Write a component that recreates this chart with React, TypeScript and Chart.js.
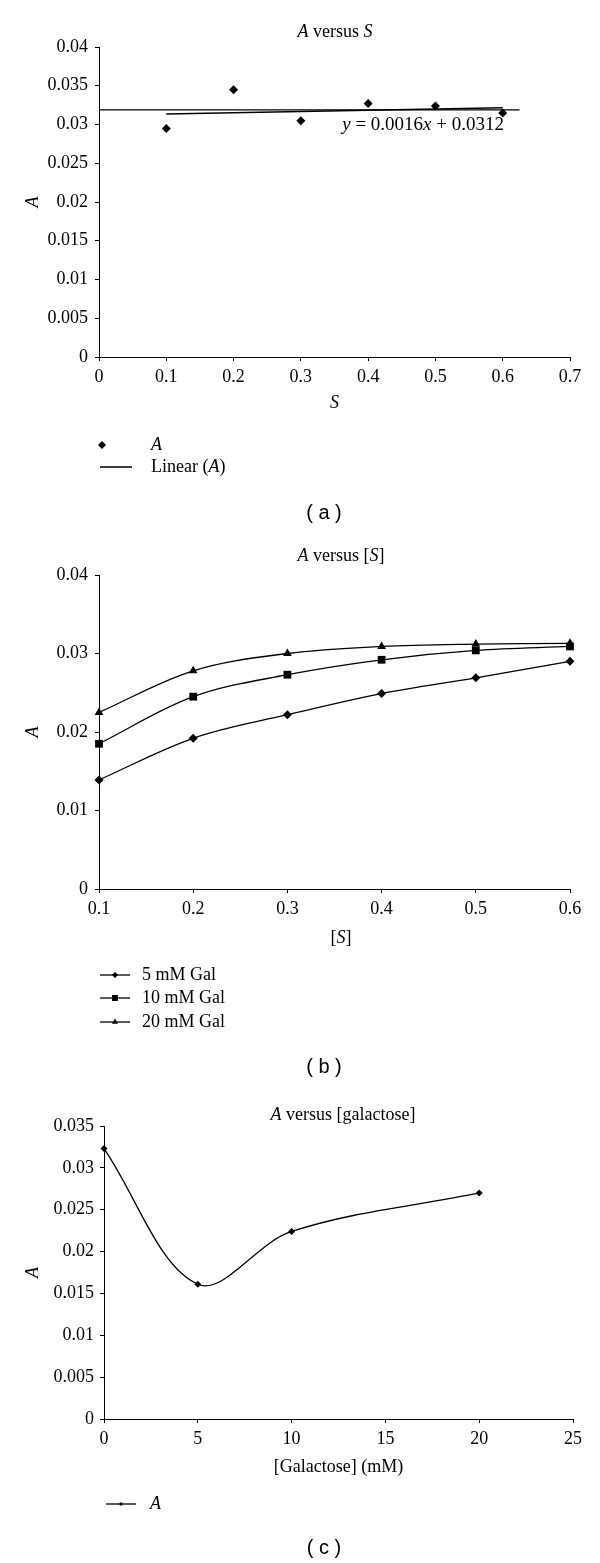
import React, { useEffect, useRef } from 'react';
import { Chart, registerables } from 'chart.js';
import { drawPoint } from 'chart.js/helpers';

Chart.register(...registerables);

// ---------- data: panel (a) ----------
const sA = [0.1, 0.2, 0.3, 0.4, 0.5, 0.6];
const aA = [0.0295, 0.0345, 0.0305, 0.0327, 0.0324, 0.0315];
const trendS = [0.1, 0.6];
const trendA = [0.03136, 0.03216];
const flatS = [0, 0.625];
const flatA = [0.0319, 0.0319];
const xTicksA = ['0', '0.1', '0.2', '0.3', '0.4', '0.5', '0.6', '0.7'];
const yTicksA = ['0', '0.005', '0.01', '0.015', '0.02', '0.025', '0.03', '0.035', '0.04'];

// ---------- data: panel (b) ----------
const sB = [0.1, 0.2, 0.3, 0.4, 0.5, 0.6];
const gal5 = [0.0139, 0.0192, 0.0222, 0.0249, 0.0269, 0.029];
const gal10 = [0.0185, 0.0245, 0.0273, 0.0292, 0.0304, 0.0309];
const gal20 = [0.0225, 0.0278, 0.03, 0.0309, 0.0312, 0.0313];
const xTicksB = ['0.1', '0.2', '0.3', '0.4', '0.5', '0.6'];
const yTicksB = ['0', '0.01', '0.02', '0.03', '0.04'];

// ---------- data: panel (c) ----------
const galC = [0, 5, 10, 20];
const aC = [0.0323, 0.0161, 0.0224, 0.027];
const xTicksC = ['0', '5', '10', '15', '20', '25'];
const yTicksC = ['0', '0.005', '0.01', '0.015', '0.02', '0.025', '0.03', '0.035'];

const SERIF = '"Liberation Serif", "Times New Roman", serif';
const SANS = '"Liberation Sans", Arial, sans-serif';

const pts = (xs: number[], ys: number[]) => xs.map((x, i) => ({ x, y: ys[i] }));
const labelFor = (labels: string[], v: number) => {
  const f = labels.find((l) => Math.abs(parseFloat(l) - v) < 1e-9);
  return f === undefined ? '' : f;
};

function parseRich(s: string) {
  return s
    .split('*')
    .map((t, i) => ({ t, it: i % 2 === 1 }))
    .filter((p) => p.t.length > 0);
}

function drawRich(
  ctx: CanvasRenderingContext2D,
  text: string,
  x: number,
  y: number,
  align: string,
  size: number,
  family: string
) {
  const segs = parseRich(text);
  const fontOf = (it: boolean) => `${it ? 'italic ' : ''}${size}px ${family}`;
  let total = 0;
  const widths = segs.map((s) => {
    ctx.font = fontOf(s.it);
    const w = ctx.measureText(s.t).width;
    total += w;
    return w;
  });
  let cx = align === 'center' ? x - total / 2 : align === 'right' ? x - total : x;
  ctx.textBaseline = 'middle';
  ctx.textAlign = 'left';
  ctx.fillStyle = '#000';
  segs.forEach((s, i) => {
    ctx.font = fontOf(s.it);
    ctx.fillText(s.t, cx, y);
    cx += widths[i];
  });
}

type TextItem = { text: string; x: number; y: number; align: string; size: number; family: string };
type LegendItem = {
  ds: number;
  y: number;
  textX: number;
  x1?: number;
  x2?: number;
  mx?: number;
  radius?: number;
};

function makeOverlay(top: number, texts: TextItem[], legend: LegendItem[]) {
  return {
    id: 'overlayText',
    afterDraw(chart: any) {
      const ctx: CanvasRenderingContext2D = chart.ctx;
      ctx.save();
      texts.forEach((t) => drawRich(ctx, t.text, t.x, t.y - top, t.align, t.size, t.family));
      legend.forEach((l) => {
        const ds = chart.data.datasets[l.ds];
        const y = l.y - top;
        if (l.x1 !== undefined && l.x2 !== undefined) {
          ctx.beginPath();
          ctx.strokeStyle = ds.borderColor;
          ctx.lineWidth = ds.borderWidth || 1;
          ctx.moveTo(l.x1, y);
          ctx.lineTo(l.x2, y);
          ctx.stroke();
        }
        if (l.mx !== undefined) {
          ctx.fillStyle = ds.pointBackgroundColor || '#000';
          ctx.strokeStyle = '#000';
          drawPoint(ctx, { pointStyle: ds.pointStyle, rotation: 0, radius: l.radius ?? 4, borderWidth: 0 }, l.mx, y);
        }
        drawRich(ctx, ds.label, l.textX, y, 'left', 18, SERIF);
      });
      ctx.restore();
    },
  };
}

function axis(
  dir: 'x' | 'y',
  min: number,
  max: number,
  step: number,
  labels: string[],
  pad: number,
  size: number,
  title?: { text: string; italic: boolean }
) {
  return {
    type: 'linear',
    position: dir === 'x' ? 'bottom' : 'left',
    min,
    max,
    ticks: {
      stepSize: step,
      padding: pad,
      color: '#000',
      autoSkip: false,
      maxRotation: 0,
      font: { family: SERIF, size: 18 },
      callback: (v: number) => labelFor(labels, v),
    },
    grid: { display: true, drawOnChartArea: false, drawTicks: true, tickLength: 4, color: '#000', lineWidth: 1 },
    border: { display: true, color: '#000', width: 1 },
    title: title
      ? {
          display: true,
          text: title.text,
          color: '#000',
          font: { family: SERIF, size: 18, style: title.italic ? 'italic' : 'normal' },
          padding: { top: 2, bottom: 0 },
        }
      : { display: false },
    afterFit: (s: any) => {
      if (dir === 'x') s.height = size;
      else s.width = size;
    },
  };
}

const baseOptions = (padding: any, scales: any) => ({
  responsive: false,
  animation: false,
  devicePixelRatio: 1,
  layout: { padding },
  scales,
  plugins: { legend: { display: false }, title: { display: false }, tooltip: { enabled: false } },
  events: [],
});

const lineDs = (label: string, data: any[], extra: any) => ({
  label,
  data,
  borderColor: '#000',
  backgroundColor: '#000',
  pointBackgroundColor: '#000',
  pointBorderColor: '#000',
  pointBorderWidth: 0,
  borderWidth: 1.3,
  clip: false,
  ...extra,
});

function configA() {
  const top = 0;
  return {
    top,
    h: 530,
    config: {
      type: 'scatter',
      data: {
        datasets: [
          lineDs('*A*', pts(sA, aA), { showLine: false, pointStyle: 'rectRot', pointRadius: 4.5 }),
          lineDs('Linear (*A*)', pts(trendS, trendA), { showLine: true, pointRadius: 0, borderWidth: 1.5 }),
          lineDs('', pts(flatS, flatA), { showLine: true, pointRadius: 0, borderWidth: 1.3 }),
        ],
      },
      options: baseOptions(
        { left: 20, right: 30, top: 47, bottom: 116 },
        {
          x: axis('x', 0, 0.7, 0.1, xTicksA, 5, 57, { text: 'S', italic: true }),
          y: axis('y', 0, 0.04, 0.005, yTicksA, 7, 79, { text: 'A', italic: true }),
        }
      ),
      plugins: [
        makeOverlay(
          top,
          [
            { text: '*A* versus *S*', x: 335, y: 32, align: 'center', size: 18, family: SERIF },
            { text: '*y* = 0.0016*x* + 0.0312', x: 504, y: 125, align: 'right', size: 19, family: SERIF },
            { text: '( a )', x: 324, y: 513, align: 'center', size: 20, family: SANS },
          ],
          [
            { ds: 0, y: 445, textX: 151, mx: 102, radius: 4 },
            { ds: 1, y: 467, textX: 151, x1: 100, x2: 132 },
          ]
        ),
      ],
    },
  };
}

function configB() {
  const top = 530;
  return {
    top,
    h: 555,
    config: {
      type: 'scatter',
      data: {
        datasets: [
          lineDs('5 mM Gal', pts(sB, gal5), { showLine: true, tension: 0.35, pointStyle: 'rectRot', pointRadius: 4.5 }),
          lineDs('10 mM Gal', pts(sB, gal10), { showLine: true, tension: 0.35, pointStyle: 'rect', pointRadius: 5.5 }),
          lineDs('20 mM Gal', pts(sB, gal20), { showLine: true, tension: 0.35, pointStyle: 'triangle', pointRadius: 5 }),
        ],
      },
      options: baseOptions(
        { left: 20, right: 30, top: 45, bottom: 156 },
        {
          x: axis('x', 0.1, 0.6, 0.1, xTicksB, 5, 40),
          y: axis('y', 0, 0.04, 0.01, yTicksB, 7, 79, { text: 'A', italic: true }),
        }
      ),
      plugins: [
        makeOverlay(
          top,
          [
            { text: '*A* versus [*S*]', x: 341, y: 556, align: 'center', size: 18, family: SERIF },
            { text: '[*S*]', x: 341, y: 938, align: 'center', size: 18, family: SERIF },
            { text: '( b )', x: 324, y: 1067, align: 'center', size: 20, family: SANS },
          ],
          [
            { ds: 0, y: 975, textX: 142, x1: 100, x2: 130, mx: 115, radius: 3 },
            { ds: 1, y: 998, textX: 142, x1: 100, x2: 130, mx: 115, radius: 4.2 },
            { ds: 2, y: 1022, textX: 142, x1: 100, x2: 130, mx: 115, radius: 3.5 },
          ]
        ),
      ],
    },
  };
}

function configC() {
  const top = 1085;
  return {
    top,
    h: 478,
    config: {
      type: 'scatter',
      data: {
        datasets: [lineDs('*A*', pts(galC, aC), { showLine: true, tension: 0.35, pointStyle: 'rectRot', pointRadius: 3.5 })],
      },
      options: baseOptions(
        { left: 20, right: 27, top: 41, bottom: 85 },
        {
          x: axis('x', 0, 25, 5, xTicksC, 5, 59, { text: '[Galactose] (mM)', italic: false }),
          y: axis('y', 0, 0.035, 0.005, yTicksC, 6, 84, { text: 'A', italic: true }),
        }
      ),
      plugins: [
        makeOverlay(
          top,
          [
            { text: '*A* versus [galactose]', x: 343, y: 1115, align: 'center', size: 18, family: SERIF },
            { text: '( c )', x: 324, y: 1548, align: 'center', size: 20, family: SANS },
          ],
          [{ ds: 0, y: 1504, textX: 150, x1: 106, x2: 136, mx: 121, radius: 2 }]
        ),
      ],
    },
  };
}

function Panel({ make }: { make: () => any }) {
  const ref = useRef<HTMLCanvasElement>(null);
  const spec = make();
  useEffect(() => {
    const s = make();
    const chart = new Chart(ref.current as HTMLCanvasElement, s.config as any);
    return () => chart.destroy();
  }, []);
  return (
    <canvas
      ref={ref}
      width={600}
      height={spec.h}
      style={{ position: 'absolute', left: 0, top: spec.top, width: 600, height: spec.h, display: 'block' }}
    />
  );
}

export default function App() {
  Chart.defaults.color = '#000';
  return (
    <div style={{ position: 'absolute', left: 0, top: 0, width: 600, height: 1563, background: '#fff' }}>
      <Panel make={configA} />
      <Panel make={configB} />
      <Panel make={configC} />
    </div>
  );
}
